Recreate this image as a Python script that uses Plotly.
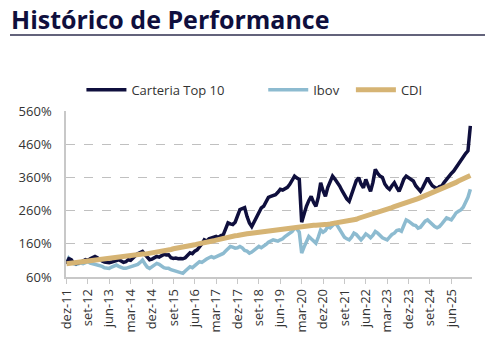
import plotly.graph_objects as go

# ---- data (monthly, dez-11 .. ) ----
pt_months = ["jan", "fev", "mar", "abr", "mai", "jun", "jul", "ago", "set", "out", "nov", "dez"]

carteira = [100, 115, 112, 102, 100, 102, 105, 108, 112, 110, 115, 120, 122, 118, 112, 108, 105, 104, 103, 105,
            108, 110, 112, 108, 104, 106, 112, 110, 118, 124, 130, 134, 137, 128, 118, 112, 114, 118, 122, 120,
            124, 128, 126, 127, 118, 116, 117, 115, 116, 115, 118, 126, 133, 130, 138, 142, 150, 160, 172, 168,
            175, 178, 180, 182, 178, 185, 187, 205, 223, 220, 218, 225, 245, 263, 266, 269, 242, 223, 212, 225,
            239, 255, 268, 273, 285, 300, 303, 305, 308, 315, 324, 322, 326, 330, 339, 350, 364, 358, 354, 225,
            250, 273, 290, 303, 285, 273, 300, 344, 320, 303, 330, 350, 364, 355, 345, 334, 320, 305, 295, 288,
            310, 335, 350, 359, 340, 329, 354, 335, 318, 345, 384, 372, 364, 360, 340, 330, 324, 335, 344, 330,
            318, 335, 355, 364, 358, 352, 349, 335, 325, 318, 330, 348, 359, 345, 335, 330, 326, 332, 334, 345,
            355, 364, 372, 379, 390, 399, 410, 424, 432, 440, 515]

ibov = [100, 117, 110, 100, 98, 100, 102, 100, 104, 106, 102, 100, 98, 96, 96, 92, 88, 86, 86, 90,
        94, 96, 92, 88, 86, 86, 88, 92, 94, 96, 98, 104, 111, 100, 90, 86, 90, 96, 101, 98,
        92, 88, 86, 86, 82, 80, 76, 74, 72, 71, 78, 86, 91, 88, 95, 100, 106, 104, 110, 114,
        118, 121, 118, 122, 126, 128, 131, 138, 145, 152, 150, 147, 148, 152, 148, 140, 138, 132, 135, 140,
        145, 152, 148, 152, 158, 165, 170, 172, 170, 168, 172, 175, 182, 188, 192, 197, 207, 205, 195, 132,
        150, 165, 182, 175, 168, 162, 180, 202, 195, 200, 212, 208, 215, 222, 215, 202, 190, 180, 175, 172,
        180, 192, 188, 178, 172, 180, 190, 185, 178, 186, 197, 192, 185, 178, 175, 172, 180, 188, 192, 200,
        202, 198, 215, 232, 228, 222, 217, 215, 207, 210, 220, 228, 232, 225, 218, 212, 208, 212, 220, 230,
        238, 235, 232, 242, 253, 258, 262, 270, 283, 300, 324]

cdi = [100, 101, 102, 103, 104, 105, 106, 107, 108, 109, 110, 111, 112, 113, 114, 115, 115, 116, 117, 118,
       119, 120, 120, 121, 122, 123, 124, 124, 125, 126, 127, 128, 129, 129, 130, 131, 132, 133, 135, 136,
       138, 139, 141, 142, 143, 145, 146, 148, 149, 150, 152, 153, 155, 156, 157, 159, 160, 161, 163, 164,
       166, 168, 169, 171, 173, 174, 176, 177, 179, 181, 182, 184, 185, 187, 188, 189, 190, 191, 192, 193,
       195, 196, 197, 198, 199, 200, 201, 202, 203, 204, 205, 206, 207, 208, 209, 210, 211, 212, 213, 214,
       214, 215, 215, 215, 216, 216, 216, 217, 217, 218, 219, 220, 221, 222, 223, 224, 225, 226, 227, 228,
       230, 232, 234, 237, 239, 241, 244, 246, 249, 251, 253, 256, 258, 260, 262, 265, 267, 269, 272, 274,
       276, 279, 281, 283, 286, 288, 291, 294, 296, 299, 302, 304, 307, 310, 313, 316, 318, 321, 324, 328,
       331, 335, 338, 342, 345, 349, 352, 356, 359, 363, 366]

y_ticks = [60, 160, 260, 360, 460, 560]

# month category labels starting dez-11
months = []
mi, yr = 11, 11
for _ in range(len(carteira)):
    months.append(f"{pt_months[mi]}-{yr:02d}")
    mi += 1
    if mi == 12:
        mi = 0
        yr += 1
tick_labels = months[::9]

NAVY = "#0f0f3d"
BLUE = "#8dbbd0"
TAN = "#d6b474"
NB = "\u00a0"

fig = go.Figure()
fig.add_trace(go.Scatter(x=months, y=ibov, name="Ibov" + NB * 2, mode="lines",
                         line=dict(color=BLUE, width=3.5), legendrank=2))
fig.add_trace(go.Scatter(x=months, y=carteira, name="Carteria Top 10" + NB * 10, mode="lines",
                         line=dict(color=NAVY, width=3.5), legendrank=1))
fig.add_trace(go.Scatter(x=months, y=cdi, name="CDI", mode="lines",
                         line=dict(color=TAN, width=5), legendrank=3))

fig.update_layout(
    width=485, height=351,
    margin=dict(l=66, r=13, t=111, b=74),
    paper_bgcolor="white", plot_bgcolor="white",
    showlegend=True,
    legend=dict(orientation="h", x=0.038, xanchor="left", y=1.127, yanchor="middle",
                font=dict(family="Open Sans", size=13, color="#333333"),
                itemwidth=40, traceorder="normal", bgcolor="rgba(0,0,0,0)"),
    font=dict(family="Open Sans", color="#333333"),
)

fig.update_xaxes(type="category", range=[-0.2, len(months) - 0.3],
                 tickmode="array", tickvals=tick_labels, ticktext=tick_labels,
                 tickangle=-90, tickfont=dict(size=13, color="#333333"),
                 showgrid=False, showline=True, linecolor="#c8c8c8", linewidth=1.5,
                 ticks="outside", ticklen=5, tickcolor="#c8c8c8", zeroline=False)
fig.update_yaxes(range=[60, 560], tickmode="array", tickvals=y_ticks,
                 ticktext=[f"{v}%" for v in y_ticks],
                 tickfont=dict(size=13, color="#333333"),
                 showgrid=True, gridcolor="#c0c0c0", griddash="dash", gridwidth=1,
                 showline=True, linecolor="#c8c8c8", linewidth=1.5, zeroline=False,
                 ticks="", ticklabelstandoff=10)

fig.add_annotation(text="<b>Histórico de Performance</b>", xref="paper", yref="paper",
                   x=-57 / 406, y=(277 - 19) / 166, xanchor="left", yanchor="middle",
                   showarrow=False, font=dict(family="Open Sans", size=25, color="#0f0f3d"))
fig.add_shape(type="line", xref="paper", yref="paper",
              x0=-56 / 406, x1=419 / 406, y0=(277 - 35) / 166, y1=(277 - 35) / 166,
              line=dict(color="#2f2f4f", width=1.5))

fig.write_html("out.html")
